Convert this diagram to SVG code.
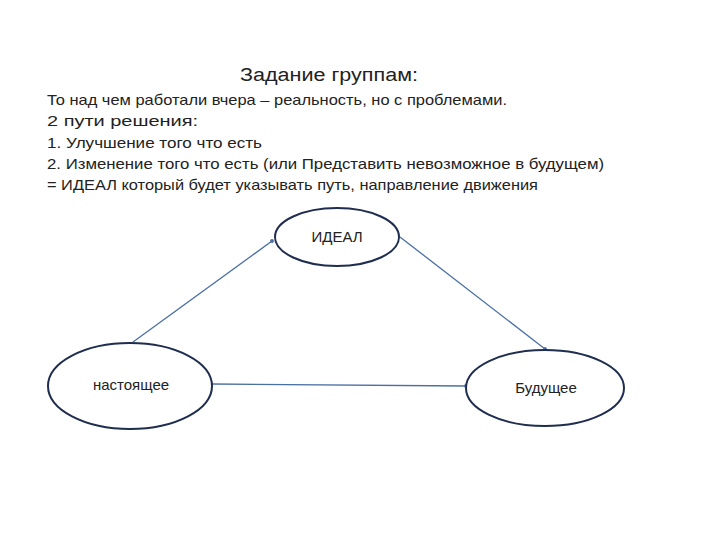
<svg xmlns="http://www.w3.org/2000/svg" width="720" height="540" viewBox="0 0 720 540">
<style>
text{font-family:"Liberation Sans","DejaVu Sans",sans-serif;fill:#222}
.b{font-size:15px}
.n ellipse{fill:#fff;stroke:#1f2d4f;stroke-width:2}
#conn line{stroke:#4a6fa5;stroke-width:1.3;marker-end:url(#a)}
</style>
<defs><marker id="a" markerWidth="5" markerHeight="5" refX="2.5" refY="2.5"><circle cx="2.5" cy="2.5" r="1.5" fill="#4a6fa5"/></marker></defs>
<rect width="720" height="540" fill="#fff"/>
<text x="240" y="81" font-size="18" textLength="178" lengthAdjust="spacingAndGlyphs">Задание группам:</text>
<text class="b" x="47" y="105" textLength="460" lengthAdjust="spacingAndGlyphs">То над чем работали вчера – реальность, но с проблемами.</text>
<text class="b" x="47" y="126" textLength="151" lengthAdjust="spacingAndGlyphs">2 пути решения:</text>
<text class="b" x="47" y="148" textLength="215" lengthAdjust="spacingAndGlyphs">1.   Улучшение того что есть</text>
<text class="b" x="47" y="169" textLength="557" lengthAdjust="spacingAndGlyphs">2.   Изменение того что есть (или Представить невозможное в будущем)</text>
<text class="b" x="47" y="190" textLength="491" lengthAdjust="spacingAndGlyphs">= ИДЕАЛ который будет указывать путь, направление движения</text>
<g id="conn">
<line x1="133" y1="342" x2="272" y2="241"/>
<line x1="400" y1="237" x2="545" y2="349"/>
<line x1="212" y1="384" x2="466" y2="386"/>
</g>
<g id="ideal" class="n"><ellipse cx="337" cy="237" rx="62" ry="29"/><text class="b" x="337" y="242" text-anchor="middle">ИДЕАЛ</text></g>
<g id="present" class="n"><ellipse cx="130" cy="386" rx="82" ry="43"/><text class="b" x="131" y="390" text-anchor="middle">настоящее</text></g>
<g id="future" class="n"><ellipse cx="545" cy="388" rx="79" ry="38"/><text class="b" x="546" y="393" text-anchor="middle">Будущее</text></g>
</svg>
